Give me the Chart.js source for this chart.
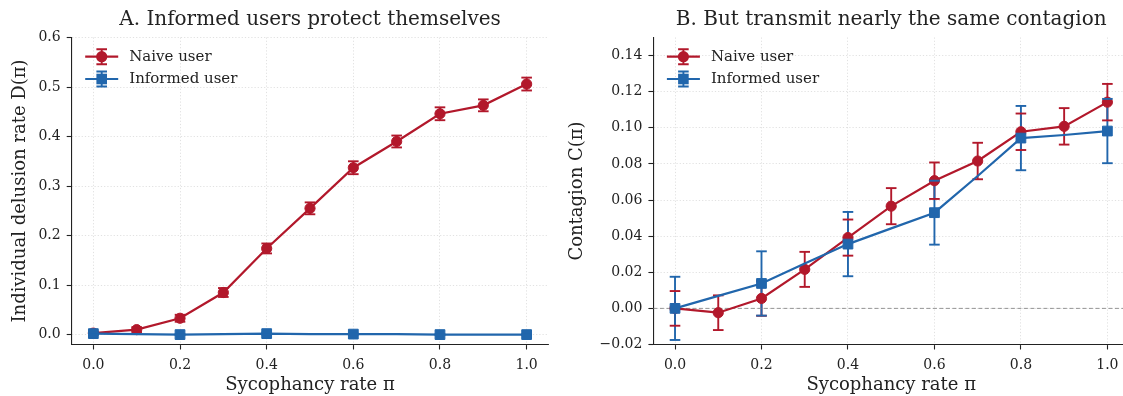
<!DOCTYPE html>
<html>
<head>
<meta charset="utf-8">
<script src="https://cdn.jsdelivr.net/npm/chart.js@4.4.0/dist/chart.umd.min.js"></script>
<style>
  html, body { margin: 0; padding: 0; background: #fff; overflow: hidden; }
  #wrap { position: relative; width: 1123px; height: 396px; overflow: hidden; }
  canvas { position: absolute; top: 0; }
  #chartA { left: 0; }
  #chartB { left: 560px; }
</style>
</head>
<body>
<div id="wrap">
  <canvas id="chartA" width="560" height="396"></canvas>
  <canvas id="chartB" width="580" height="396"></canvas>
</div>
<script>
// x axis: sycophancy rate pi
const sycophancy = [0.0, 0.1, 0.2, 0.3, 0.4, 0.5, 0.6, 0.7, 0.8, 0.9, 1.0];
const xTicks = [0.0, 0.2, 0.4, 0.6, 0.8, 1.0];

// panel A: individual delusion rate D(pi)
const naiveDelusion       = [0.003, 0.010, 0.033, 0.085, 0.174, 0.255, 0.337, 0.390, 0.446, 0.463, 0.506];
const naiveDelusionErr    = [0.003, 0.005, 0.007, 0.009, 0.010, 0.012, 0.013, 0.012, 0.013, 0.012, 0.013];
const informedDelusion    = [0.002, 0.001, 0.000, 0.001, 0.002, 0.001, 0.001, 0.001, 0.000, 0.000, 0.000];
const informedDelusionErr = [0.002, null, 0.001, null, 0.002, null, 0.001, null, 0.001, null, 0.001];
const delusionTicks = [0.0, 0.1, 0.2, 0.3, 0.4, 0.5, 0.6];

// panel B: contagion C(pi)
const naiveContagion       = [0.0000, -0.0024, 0.0055, 0.0216, 0.0392, 0.0566, 0.0707, 0.0816, 0.0978, 0.1008, 0.1142];
const naiveContagionErr    = [0.0096, 0.0096, 0.0096, 0.0097, 0.0100, 0.0100, 0.0101, 0.0101, 0.0101, 0.0101, 0.0101];
const informedContagion    = [0.0000, 0.0069, 0.0138, 0.0248, 0.0356, 0.0443, 0.0530, 0.0733, 0.0943, 0.0960, 0.0982];
const informedContagionErr = [0.0175, null, 0.0178, null, 0.0178, null, 0.0177, null, 0.0178, null, 0.0178];
const contagionTicks = [-0.02, 0.0, 0.02, 0.04, 0.06, 0.08, 0.10, 0.12, 0.14];

const RED = '#b2182b';
const BLUE = '#2166ac';
const INK = '#222222';
const SERIF = "'DejaVu Serif', serif";

function pts(ys) {
  return sycophancy.map((x, i) => ({ x: x, y: ys[i] }));
}

// error bars: stems first for every series, caps after each series' line
const errorBars = {
  id: 'errorBars',
  beforeDatasetsDraw(chart) {
    const { ctx, scales: { x, y } } = chart;
    chart.data.datasets.forEach(ds => {
      ctx.save();
      ctx.strokeStyle = ds.borderColor;
      ctx.lineWidth = 1.9;
      ds.data.forEach((p, i) => {
        const e = ds.errors[i];
        if (e == null) return;
        const px = x.getPixelForValue(p.x);
        ctx.beginPath();
        ctx.moveTo(px, y.getPixelForValue(p.y + e));
        ctx.lineTo(px, y.getPixelForValue(p.y - e));
        ctx.stroke();
      });
      ctx.restore();
    });
  },
  afterDatasetDraw(chart, args) {
    const ds = chart.data.datasets[args.index];
    const { ctx, scales: { x, y } } = chart;
    ctx.save();
    ctx.strokeStyle = ds.borderColor;
    ctx.lineWidth = 1.9;
    ds.data.forEach((p, i) => {
      const e = ds.errors[i];
      if (e == null) return;
      const px = x.getPixelForValue(p.x);
      [p.y + e, p.y - e].forEach(v => {
        const py = y.getPixelForValue(v);
        ctx.beginPath();
        ctx.moveTo(px - 5.3, py);
        ctx.lineTo(px + 5.3, py);
        ctx.stroke();
      });
    });
    ctx.restore();
  }
};

// dashed reference line at zero (panel B)
const zeroLine = {
  id: 'zeroLine',
  beforeDatasetsDraw(chart, args, opts) {
    if (!opts.show) return;
    const { ctx, chartArea, scales: { y } } = chart;
    const py = y.getPixelForValue(0);
    ctx.save();
    ctx.strokeStyle = '#8a8a8a';
    ctx.lineWidth = 0.9;
    ctx.setLineDash([4, 2.5]);
    ctx.beginPath();
    ctx.moveTo(chartArea.left, py);
    ctx.lineTo(chartArea.right, py);
    ctx.stroke();
    ctx.restore();
  }
};

// panel title centred on the plot area + legend inside the top-left corner
const decor = {
  id: 'decor',
  afterDraw(chart, args, opts) {
    const { ctx, chartArea } = chart;
    ctx.save();
    ctx.fillStyle = INK;
    ctx.font = '20px ' + SERIF;
    ctx.textAlign = 'center';
    ctx.textBaseline = 'middle';
    ctx.fillText(opts.title, (chartArea.left + chartArea.right) / 2, 19.5);

    chart.data.datasets.forEach((ds, i) => {
      const yy = chartArea.top + 19.2 + i * 22.3;
      const x0 = chartArea.left + 13.5;
      const xm = x0 + 16.5;
      ctx.strokeStyle = ds.borderColor;
      ctx.fillStyle = ds.borderColor;
      ctx.lineWidth = 1.9;
      ctx.beginPath();
      ctx.moveTo(xm, yy - 7.5); ctx.lineTo(xm, yy + 7.5);
      ctx.moveTo(xm - 5.3, yy - 7.5); ctx.lineTo(xm + 5.3, yy - 7.5);
      ctx.moveTo(xm - 5.3, yy + 7.5); ctx.lineTo(xm + 5.3, yy + 7.5);
      ctx.stroke();
      ctx.lineWidth = 2.2;
      ctx.beginPath();
      ctx.moveTo(x0, yy); ctx.lineTo(x0 + 33, yy);
      ctx.stroke();
      if (ds.pointStyle === 'rect') {
        ctx.fillRect(xm - 5.3, yy - 5.3, 10.6, 10.6);
      } else {
        ctx.beginPath();
        ctx.arc(xm, yy, 5.6, 0, Math.PI * 2);
        ctx.fill();
      }
      ctx.fillStyle = INK;
      ctx.font = '15px ' + SERIF;
      ctx.textAlign = 'left';
      ctx.fillText(ds.label, chartArea.left + 57.5, yy);
    });
    ctx.restore();
  }
};

function makeChart(id, cfg) {
  const naive = {
    label: 'Naive user',
    data: pts(cfg.naive),
    errors: cfg.naiveErr,
    borderColor: RED,
    backgroundColor: RED,
    borderWidth: 2.2,
    pointStyle: 'circle',
    pointRadius: 5.1,
    pointBorderWidth: 1,
    pointBackgroundColor: RED,
    pointBorderColor: RED,
    order: 2
  };
  const informed = {
    label: 'Informed user',
    data: pts(cfg.informed),
    errors: cfg.informedErr,
    borderColor: BLUE,
    backgroundColor: BLUE,
    borderWidth: 2.2,
    pointStyle: 'rect',
    pointRadius: sycophancy.map((_, i) => (i % 2 === 0 ? 6.9 : 0)),
    pointBorderWidth: 1,
    pointBackgroundColor: BLUE,
    pointBorderColor: BLUE,
    order: 1
  };
  const gridOpts = { color: '#d9d9d9', lineWidth: 0.8, tickLength: 5, tickColor: INK, tickWidth: 1.1, tickBorderDash: [] };
  const borderOpts = { color: INK, width: 1.1, dash: [1.2, 2] };
  return new Chart(document.getElementById(id), {
    type: 'line',
    data: { datasets: [naive, informed] },
    plugins: [errorBars, zeroLine, decor],
    options: {
      responsive: false,
      animation: false,
      events: [],
      layout: { padding: { top: 37.5, left: 0, right: cfg.padRight, bottom: 0 } },
      elements: { line: { tension: 0 } },
      plugins: {
        legend: { display: false },
        tooltip: { enabled: false },
        zeroLine: { show: cfg.zero },
        decor: { title: cfg.title }
      },
      scales: {
        x: {
          type: 'linear',
          min: -0.05,
          max: 1.05,
          afterBuildTicks: s => { s.ticks = xTicks.map(v => ({ value: v })); },
          afterFit: s => { s.height = 51.5; },
          grid: gridOpts,
          border: borderOpts,
          ticks: {
            color: INK,
            padding: 7,
            font: { family: SERIF, size: 14 },
            callback: v => v.toFixed(1)
          },
          title: {
            display: true,
            text: 'Sycophancy rate π',
            color: INK,
            font: { family: SERIF, size: 18 },
            padding: { top: 0, bottom: 0 }
          }
        },
        y: {
          min: cfg.yMin,
          max: cfg.yMax,
          afterBuildTicks: s => { s.ticks = cfg.yTicks.map(v => ({ value: v })); },
          afterFit: s => { s.width = cfg.yWidth; },
          grid: gridOpts,
          border: borderOpts,
          ticks: {
            color: INK,
            padding: 6,
            font: { family: SERIF, size: 14 },
            callback: v => (v < 0 ? '\u2212' : '') + Math.abs(v).toFixed(cfg.digits)
          },
          title: {
            display: true,
            text: cfg.yTitle,
            color: INK,
            font: { family: SERIF, size: 18 },
            padding: { top: cfg.yTitlePad, bottom: 0 }
          }
        }
      }
    }
  });
}

makeChart('chartA', {
  title: 'A. Informed users protect themselves',
  naive: naiveDelusion, naiveErr: naiveDelusionErr,
  informed: informedDelusion, informedErr: informedDelusionErr,
  yTicks: delusionTicks, yMin: -0.02, yMax: 0.6, digits: 1,
  yTitle: 'Individual delusion rate D(π)', yTitlePad: 9.2,
  yWidth: 71.7, padRight: 11.7, zero: false
});

makeChart('chartB', {
  title: 'B. But transmit nearly the same contagion',
  naive: naiveContagion, naiveErr: naiveContagionErr,
  informed: informedContagion, informedErr: informedContagionErr,
  yTicks: contagionTicks, yMin: -0.02, yMax: 0.15, digits: 2,
  yTitle: 'Contagion C(π)', yTitlePad: 6.2,
  yWidth: 93.4, padRight: 11, zero: true
});
</script>
</body>
</html>
